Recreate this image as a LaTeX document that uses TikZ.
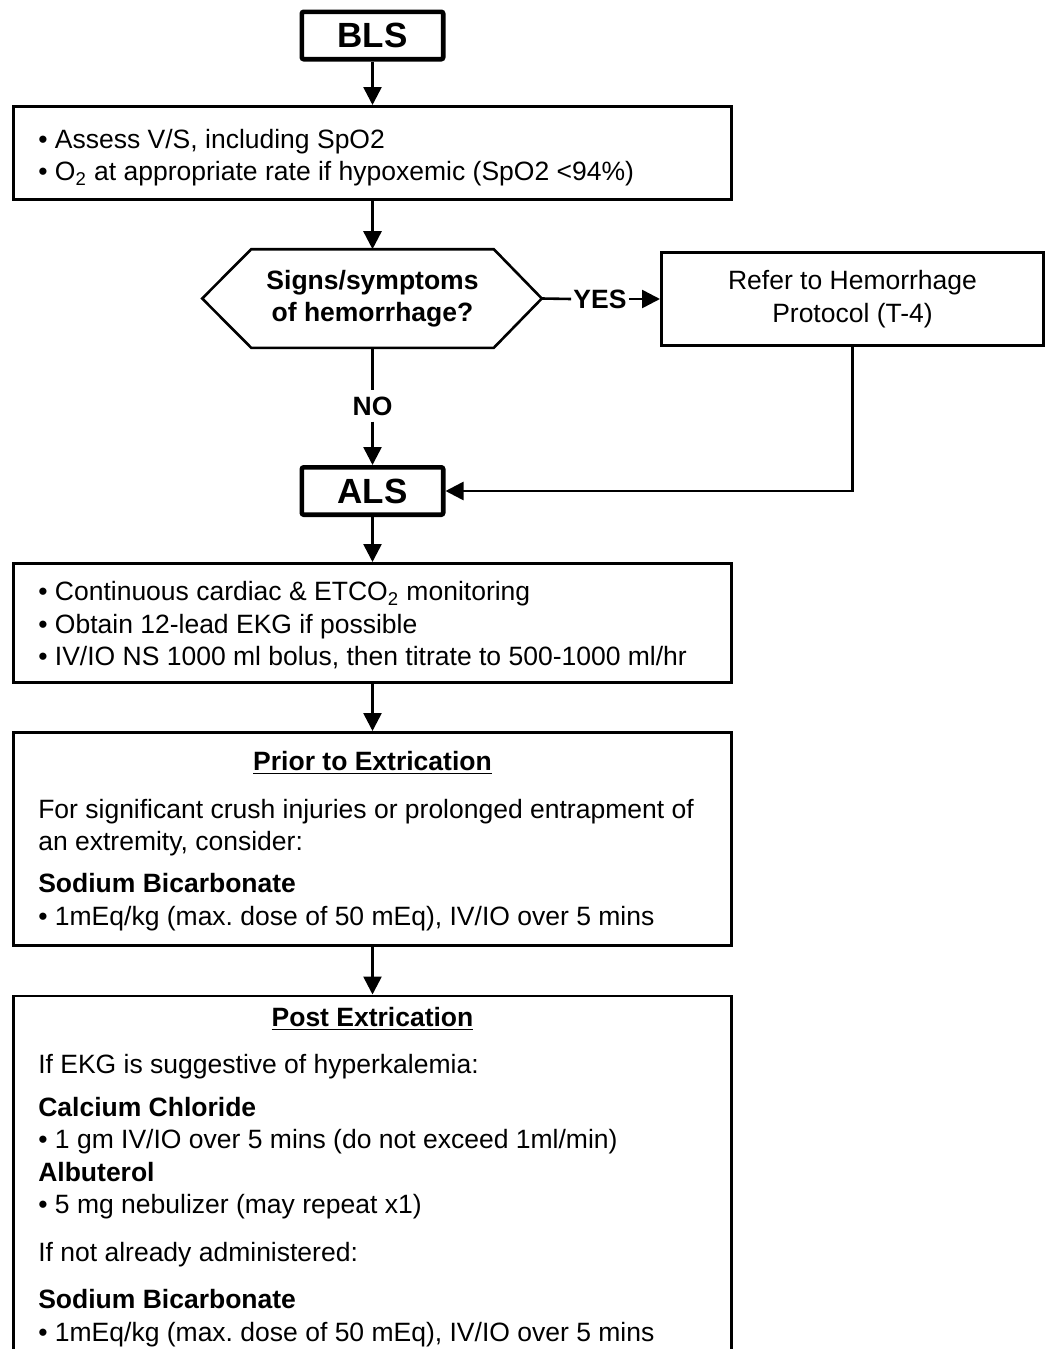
\documentclass[tikz,border=0pt]{standalone}
\usepackage{fontspec}
\setmainfont{Liberation Sans}
\usetikzlibrary{calc, positioning, arrows.meta}
\frenchspacing
\newcommand{\bodysize}{\fontsize{13.25}{16.25}\selectfont}
\newcommand{\tagsize}{\fontsize{17.5}{21}\selectfont}
\newcommand{\tstrut}{\rule{0pt}{10pt}}

\begin{document}
\begin{tikzpicture}[x=0.5pt, y=-0.5pt, font=\bodysize, line width=1.3pt,
    >={Triangle[length=9pt, width=9pt]},
    tagbox/.style={draw, line width=2.3pt, rounded corners=1pt, minimum width=70.7pt, minimum height=23.7pt, inner sep=0pt, font=\tagsize\bfseries},
    panel/.style={draw, minimum width=359.2pt, inner sep=0pt},
    bodytext/.style={anchor=north west, align=left, inner sep=0pt},
    heading/.style={anchor=base, inner sep=0pt, font=\bodysize\bfseries},
    lbl/.style={inner xsep=0.5pt, inner ysep=2.5pt, font=\bodysize\bfseries}]
        \useasboundingbox (0,0) rectangle (1047,1349);
        \clip (0,0) rectangle (1047,1349);

        \node[tagbox] (bls) at (372.5,35.5) {BLS};
        \node[panel, minimum height=46.7pt] (vitals) at (372.5,153) {};
        \node[bodytext] (vitalstxt) at (37,127) {\tstrut• Assess V/S, including SpO2\\• O\textsubscript{2} at appropriate rate if hypoxemic (SpO2 <94\%)};

        \node[align=center, minimum width=120pt, minimum height=48pt, inner sep=0pt, font=\bodysize\bfseries] (hemo) at (372.5,298.5) {Signs/symptoms\\of hemorrhage?};
        \coordinate (hemoL) at ($(hemo.west)+(-49,0)$);
        \coordinate (hemoR) at ($(hemo.east)+(48,0)$);
        \draw (hemo.north west) -- (hemo.north east) -- (hemoR) -- (hemo.south east) -- (hemo.south west) -- (hemoL) -- cycle;

        \node[draw, align=center, minimum width=191.2pt, minimum height=46.7pt] (refer) at (852.5,299) {Refer to Hemorrhage\\Protocol (T-4)};
        \node[lbl] (yes) at (600,299) {YES};
        \node[lbl] (no) at (372.5,406) {NO};
        \node[tagbox] (als) at (372.5,491) {ALS};

        \node[panel, minimum height=59.7pt] (monitor) at (372.5,623) {};
        \node[bodytext] (monitortxt) at (37,579.5) {\tstrut• Continuous cardiac \& ETCO\textsubscript{2} monitoring\\• Obtain 12-lead EKG if possible\\• IV/IO NS 1000 ml bolus, then titrate to 500-1000 ml/hr};

        \node[panel, minimum height=106.7pt] (prior) at (372.5,839) {};
        \node[heading] (priorhead) at (372.5,770) {\underline{Prior to Extrication}};
        \node[bodytext] (priortxt) at (37,797) {\tstrut For significant crush injuries or prolonged entrapment of\\an extremity, consider:\\[4.75pt]\textbf{Sodium Bicarbonate}\\• 1mEq/kg (max. dose of 50 mEq), IV/IO over 5 mins};

        \node[panel, minimum height=220pt, anchor=north] (post) at (372.5,994.5) {};
        \node[heading] (posthead) at (372.5,1026) {\underline{Post Extrication}};
        \node[bodytext] (posttxt) at (37,1052) {\tstrut If EKG is suggestive of hyperkalemia:\\[5.25pt]\textbf{Calcium Chloride}\\• 1 gm IV/IO over 5 mins (do not exceed 1ml/min)\\\textbf{Albuterol}\\• 5 mg nebulizer (may repeat x1)\\[7.75pt]If not already administered:\\[7.25pt]\textbf{Sodium Bicarbonate}\\• 1mEq/kg (max. dose of 50 mEq), IV/IO over 5 mins};

        \draw[->] (bls.south) -- (vitals.north);
        \draw[->] (vitals.south) -- (hemo.north);
        \draw (hemoR) -- (yes.west);
        \draw[->] (yes.east) -- (refer.west);
        \draw (hemo.south) -- (no.north);
        \draw[->] (no.south) -- (als.north);
        \draw[->] (refer.south) |- (als.east);
        \draw[->] (als.south) -- (monitor.north);
        \draw[->] (monitor.south) -- (prior.north);
        \draw[->] (prior.south) -- (post.north);
    \end{tikzpicture}
\end{document}
